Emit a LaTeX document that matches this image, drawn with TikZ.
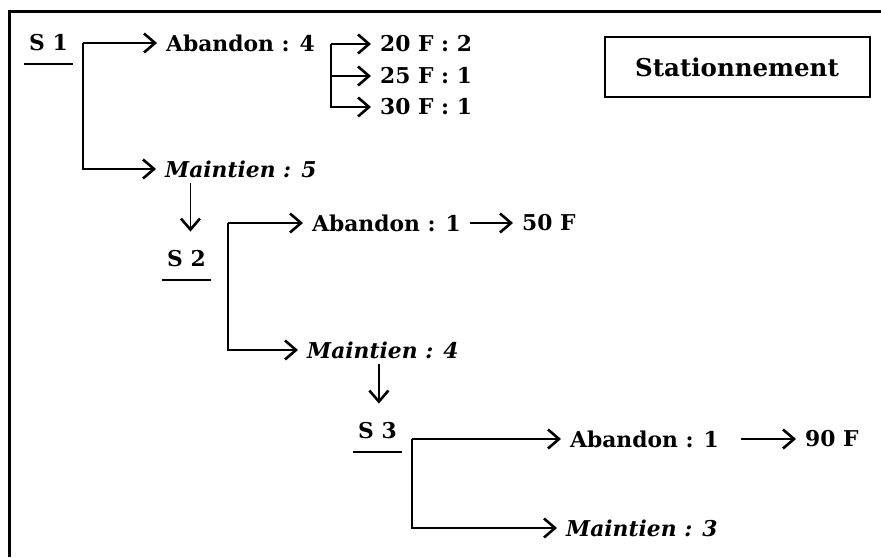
\documentclass[tikz,border=0pt]{standalone}
\usepackage{fontspec}
\setmainfont{DejaVu Serif}
\usetikzlibrary{arrows.meta}

\begin{document}
\begin{tikzpicture}[x=1pt, y=-1pt,
    etiq/.style     = {font=\bfseries\fontsize{21.8}{26}\selectfont,
                       inner sep=5pt, anchor=west},
    maint/.style    = {etiq, font=\bfseries\itshape\fontsize{21.8}{26}\selectfont},
    fleche/.style   = {line width=1.4pt, shorten >=4pt,
                       -{Straight Barb[length=11pt,width=19pt,line width=2.6pt]}},
    descente/.style = {fleche, shorten >=14pt},
    souligne/.style = {line width=2pt},
    titre/.style    = {draw, line width=2pt, minimum width=265pt,
                       minimum height=60pt,
                       font=\bfseries\fontsize{24.5}{29}\selectfont},
  ]
  \useasboundingbox (0,0) rectangle (881,557);
  \draw[line width=3pt] (9,557) -- (9,11) -- (881,11);

  \node[titre] (stat) at (737,67) {Stationnement};

  % S 1
  \node[etiq]  (s1)  at (24,43)   {S 1};
  \node[etiq]  (ab1) at (161,43)  {Abandon : 4};
  \node[maint] (ma1) at (160,169) {Maintien : 5};
  \node[etiq]  (f20) at (375,44)  {20 F : 2};
  \node[etiq]  (f25) at (375,76)  {25 F : 1};
  \node[etiq]  (f30) at (375,107) {30 F : 1};
  \draw[souligne] ([yshift=-8pt]s1.south west) -- ([yshift=-8pt]s1.south east);
  \coordinate (b1) at (83,43);
  \coordinate (b2) at (331,44);
  \draw[fleche] (b1) -- (ab1.west);
  \draw[fleche] (b1) |- (ma1.west);
  \draw[fleche] (b2) -- (f20.west);
  \draw[fleche] (b2) |- (f25.west);
  \draw[fleche] (b2) |- (f30.west);

  % S 2
  \node[etiq]  (s2)  at (162,259) {S 2};
  \node[etiq]  (ab2) at (307,223) {Abandon : 1};
  \node[etiq]  (f50) at (517,223) {50 F};
  \node[maint] (ma2) at (302,350) {Maintien : 4};
  \draw[souligne] ([yshift=-8pt]s2.south west) -- ([yshift=-8pt]s2.south east);
  \draw[descente] ([xshift=4pt]ma1.south -| s2) -- ([xshift=4pt]s2.north);
  \coordinate (b3) at (228,223);
  \draw[fleche] (b3) -- (ab2.west);
  \draw[fleche] (b3) |- (ma2.west);
  \draw[fleche, shorten <=4pt] (ab2.east) -- (f50.west);

  % S 3
  \node[etiq]  (s3)  at (353,431) {S 3};
  \node[etiq]  (ab3) at (565,439) {Abandon : 1};
  \node[etiq]  (f90) at (800,439) {90 F};
  \node[maint] (ma3) at (561,528) {Maintien : 3};
  \draw[souligne] ([yshift=-8pt]s3.south west) -- ([yshift=-8pt]s3.south east);
  \draw[descente] ([xshift=-4pt]ma2.south) -- ([xshift=-4pt]ma2.south |- s3.north);
  \coordinate (b4) at (412,439);
  \draw[fleche] (b4) -- (ab3.west);
  \draw[fleche] (b4) |- (ma3.west);
  \draw[fleche] ([xshift=17pt]ab3.east) -- (f90.west);
\end{tikzpicture}
\end{document}
